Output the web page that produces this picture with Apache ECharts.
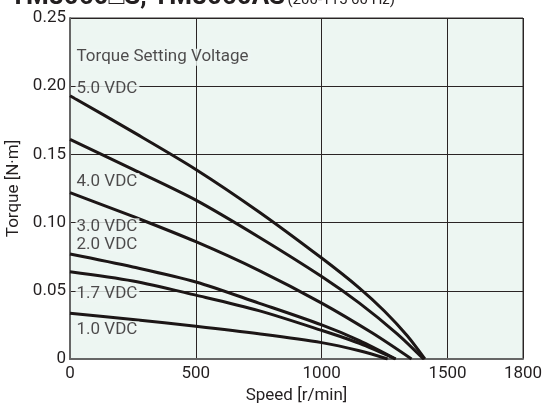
<!DOCTYPE html>
<html>
<head>
<meta charset="utf-8">
<script src="https://cdn.jsdelivr.net/npm/echarts@6/dist/echarts.min.js"></script>
<style>
  html, body { margin: 0; padding: 0; background: #ffffff; }
  #chart { width: 546px; height: 405px; }
</style>
</head>
<body>
<div id="chart"></div>
<script>
// Speed–torque curves for each torque setting voltage: [speed r/min, torque N·m]
const curve50 = [[0,0.193],[250,0.1665],[500,0.139],[750,0.108],[1000,0.074],[1150,0.052],[1250,0.035],[1340,0.017],[1410,0]];
const curve40 = [[0,0.161],[250,0.139],[500,0.1165],[750,0.0895],[1000,0.0605],[1150,0.041],[1300,0.0185],[1405,0]];
const curve30 = [[0,0.122],[250,0.1045],[500,0.086],[750,0.065],[1000,0.041],[1200,0.0192],[1357,0]];
const curve20 = [[0,0.077],[250,0.0675],[500,0.0565],[750,0.041],[1000,0.025],[1150,0.0135],[1294,0]];
const curve17 = [[0,0.064],[250,0.0572],[500,0.0468],[750,0.0355],[1000,0.021],[1150,0.0115],[1294,0]];
const curve10 = [[0,0.0336],[250,0.029],[500,0.024],[750,0.0185],[1000,0.012],[1150,0.006],[1262,0]];

const voltageNames = ['5.0 VDC', '4.0 VDC', '3.0 VDC', '2.0 VDC', '1.7 VDC', '1.0 VDC'];
const curves = [curve50, curve40, curve30, curve20, curve17, curve10];

const legendTitle = 'Torque Setting Voltage';
const chartTitle = 'TM8060□S, TM8060AS';
const chartSubtitle = '(200-115 60 Hz)';

// Where each voltage caption sits, in data coordinates
const captionAnchors = [[22,0.198],[22,0.1302],[22,0.0969],[22,0.084],[22,0.0477],[22,0.0213]];
const legendAnchor = [22, 0.2213];

const FONT = '"Liberation Sans Narrow", "Roboto", sans-serif';
const PLOT_BG = '#edf6f2';
const INK = '#1c1616';
const TEXT = '#231f20';

const chart = echarts.init(document.getElementById('chart'), null, { renderer: 'canvas' });

const lineSeries = curves.map((c, i) => ({
  name: voltageNames[i],
  type: 'line',
  data: c,
  smooth: 0.3,
  showSymbol: false,
  symbol: 'none',
  lineStyle: { color: INK, width: 3 },
  z: 3
}));

const captionData = voltageNames.map((n, i) => ({ value: captionAnchors[i], name: n }));
captionData.push({ value: legendAnchor, name: legendTitle });

const captionSeries = {
  type: 'scatter',
  data: captionData,
  symbolSize: 0,
  silent: true,
  z: 5,
  label: {
    show: true,
    position: 'right',
    distance: 0,
    formatter: p => p.name,
    fontFamily: FONT,
    fontSize: 17,
    color: TEXT,
    backgroundColor: PLOT_BG,
    padding: [0, 2, 0, 1]
  }
};

chart.setOption({
  animation: false,
  backgroundColor: '#ffffff',
  graphic: [{
    type: 'text',
    left: 10,
    top: -16,
    style: { text: chartTitle, fontFamily: FONT, fontSize: 26, fontWeight: 'bold', fill: TEXT }
  }, {
    type: 'text',
    right: 151,
    top: -7,
    style: { text: chartSubtitle, fontFamily: FONT, fontSize: 15, fill: TEXT }
  }],
  grid: {
    left: 70, top: 18, right: 23, bottom: 46,
    containLabel: false,
    outerBoundsMode: 'none',
    show: true,
    backgroundColor: PLOT_BG,
    borderColor: '#333',
    borderWidth: 1
  },
  xAxis: {
    type: 'value',
    min: 0, max: 1800, interval: 500,
    name: 'Speed [r/min]',
    nameLocation: 'middle',
    nameGap: 28,
    nameTextStyle: { fontFamily: FONT, fontSize: 17, color: TEXT },
    axisLine: { show: true, lineStyle: { color: '#666', width: 2 } },
    axisTick: { show: false },
    axisLabel: {
      fontFamily: FONT, fontSize: 17, color: TEXT, margin: 6,
      formatter: v => String(v)
    },
    splitLine: { show: true, lineStyle: { color: '#2a2424', width: 1 } }
  },
  yAxis: {
    type: 'value',
    min: 0, max: 0.25, interval: 0.05,
    name: 'Torque [N·m]',
    nameLocation: 'middle',
    nameGap: 39,
    nameTextStyle: { fontFamily: FONT, fontSize: 17, color: TEXT },
    axisLine: { show: true, lineStyle: { color: '#666', width: 2 } },
    axisTick: { show: false },
    axisLabel: {
      fontFamily: FONT, fontSize: 17, color: TEXT, margin: 4,
      formatter: v => (v === 0 ? '0' : v.toFixed(2))
    },
    splitLine: { show: true, lineStyle: { color: '#2a2424', width: 1 } }
  },
  series: lineSeries.concat([captionSeries])
});
</script>
</body>
</html>
